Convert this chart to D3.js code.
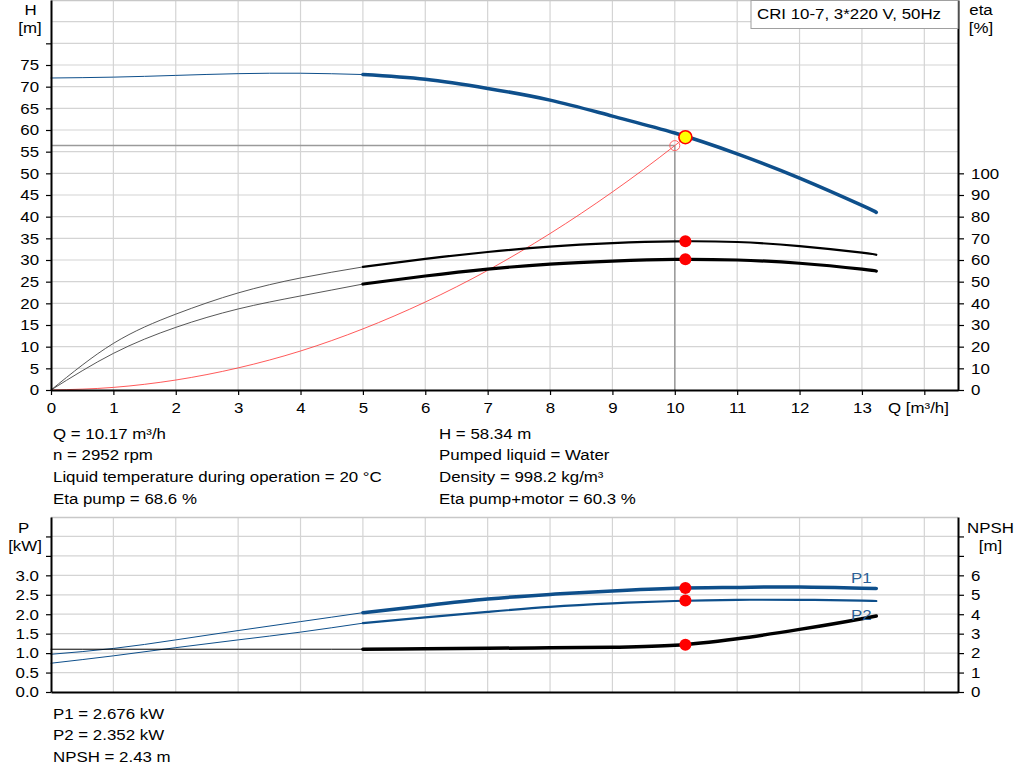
<!DOCTYPE html>
<html>
<head>
<meta charset="utf-8">
<script src="https://d3js.org/d3.v7.min.js"></script>
<style>
  body { margin: 0; background: #fff; }
  text { font-family: "Liberation Sans", Arial, sans-serif; }
</style>
</head>
<body>
<div id="vis"></div>
<script>
// pump curve data
let qThin = [0, 1, 2, 3, 4, 5];
let qThick = [5, 6, 7, 8, 9, 10, 11, 12, 13, 13.23];

let headThin = [72.0, 72.2, 72.6, 73.0, 73.1, 72.8];
let headThick = [72.8, 71.7, 69.6, 66.9, 63.2, 59.3, 54.5, 48.9, 42.6, 41.0];

let etaPumpThin = [0, 21.5, 35.0, 44.8, 51.7, 56.8];
let etaPumpThick = [56.8, 60.5, 63.7, 66.2, 67.8, 68.6, 68.3, 66.4, 63.4, 62.4];
let etaTotalThin = [0, 16.9, 28.9, 37.4, 43.4, 48.9];
let etaTotalThick = [48.9, 52.6, 55.8, 58.1, 59.5, 60.3, 60.0, 58.5, 55.8, 54.9];

let p1Thin = [0.97, 1.12, 1.34, 1.58, 1.81, 2.04];
let p1Thick = [2.04, 2.22, 2.39, 2.51, 2.60, 2.67, 2.69, 2.70, 2.67, 2.66];
let p2Thin = [0.74, 0.93, 1.14, 1.34, 1.54, 1.77];
let p2Thick = [1.77, 1.92, 2.06, 2.19, 2.28, 2.34, 2.37, 2.37, 2.35, 2.34];
let npshThin = [2.2, 2.2, 2.2, 2.2, 2.2, 2.2];
let npshThick = [2.2, 2.22, 2.25, 2.27, 2.3, 2.4, 2.74, 3.22, 3.77, 3.91];

// system curve
let qSys = [0, 1, 2, 3, 4, 5, 6, 7, 8, 9, 10, 10.17];
let hSys = [0, 0.6, 2.3, 5.1, 9.0, 14.1, 20.3, 27.6, 36.1, 45.7, 56.4, 58.34];

// duty point and operating point
let duty = { q: 10.0, h: 56.4 };
let op = { q: 10.17, h: 58.34, etaPump: 68.6, etaTotal: 60.3, p1: 2.676, p2: 2.352, npsh: 2.43 };

let qTicks = [0, 1, 2, 3, 4, 5, 6, 7, 8, 9, 10, 11, 12, 13, 14];
let hTicks = [0, 5, 10, 15, 20, 25, 30, 35, 40, 45, 50, 55, 60, 65, 70, 75, 80];
let etaTicks = [0, 10, 20, 30, 40, 50, 60, 70, 80, 90, 100];
let pTicks = [0, 0.5, 1.0, 1.5, 2.0, 2.5, 3.0, 3.5, 4.0];
let nTicks = [0, 1, 2, 3, 4, 5, 6, 7, 8];

let infoLeft = ['Q = 10.17 m³/h', 'n = 2952 rpm', 'Liquid temperature during operation = 20 °C', 'Eta pump = 68.6 %'];
let infoRight = ['H = 58.34 m', 'Pumped liquid = Water', 'Density = 998.2 kg/m³', 'Eta pump+motor = 60.3 %'];
let infoBottom = ['P1 = 2.676 kW', 'P2 = 2.352 kW', 'NPSH = 2.43 m'];

let blue = '#0e4f8b';
let gridColor = '#d4d4d4';
let fontSize = 15;
let stretch = 1.125; // reference text is a bit wider than Liberation Sans

let svg = d3.select('#vis')
  .append('svg')
  .attr('width', 1024)
  .attr('height', 781)
  .style('background-color', '#fff');

// scales
let x = d3.scaleLinear().domain([0, 14.54]).range([51, 958]);
let yH = d3.scaleLinear().domain([0, 90]).range([390, 0]);
let yEta = d3.scaleLinear().domain([0, 180]).range([390, 0]);
let yP = d3.scaleLinear().domain([0, 4.5]).range([692, 517]);
let yN = d3.scaleLinear().domain([0, 9]).range([692, 517]);

function zip(qs, vs) { return qs.map((q, i) => [q, vs[i]]); }

function drawGrid(yScale, vals, top, bottom) {
  let g = svg.append('g');
  g.selectAll('.vg').data(qTicks.slice(1))
    .enter().append('line')
    .attr('x1', d => x(d)).attr('x2', d => x(d))
    .attr('y1', top).attr('y2', bottom)
    .attr('stroke', gridColor).attr('stroke-width', 1.2);
  g.selectAll('.hg').data(vals)
    .enter().append('line')
    .attr('x1', x(0)).attr('x2', 958)
    .attr('y1', d => yScale(d)).attr('y2', d => yScale(d))
    .attr('stroke', gridColor).attr('stroke-width', 1.2);
  // top border
  g.append('line')
    .attr('x1', x(0)).attr('x2', 958)
    .attr('y1', top + 0.5).attr('y2', top + 0.5)
    .attr('stroke', '#c8c8c8').attr('stroke-width', 1.5);
}

drawGrid(yH, [5, 10, 15, 20, 25, 30, 35, 40, 45, 50, 55, 60, 65, 70, 75, 80, 85], 0, 390);
drawGrid(yP, [0.5, 1.0, 1.5, 2.0, 2.5, 3.0, 3.5, 4.0], 517, 692);

// duty point guide lines
svg.append('line')
  .attr('x1', x(0)).attr('x2', x(duty.q))
  .attr('y1', yH(duty.h)).attr('y2', yH(duty.h))
  .attr('stroke', '#9a9a9a').attr('stroke-width', 1.5);
svg.append('line')
  .attr('x1', x(duty.q)).attr('x2', x(duty.q))
  .attr('y1', yH(duty.h)).attr('y2', 390)
  .attr('stroke', '#9a9a9a').attr('stroke-width', 1.5);

function curve(qs, vs, yScale, color, w, shape) {
  let line = d3.line()
    .x(d => x(d[0]))
    .y(d => yScale(d[1]))
    .curve(shape || d3.curveNatural);
  svg.append('path')
    .datum(zip(qs, vs))
    .attr('d', line)
    .attr('fill', 'none')
    .attr('stroke', color)
    .attr('stroke-width', w)
    .attr('stroke-linecap', 'round');
}

// system curve
curve(qSys, hSys, yH, '#ff3030', 0.8, d3.curveMonotoneX);

// head
curve(qThin, headThin, yH, blue, 1);
curve(qThick, headThick, yH, blue, 3.5);
// efficiencies
curve(qThin, etaPumpThin, yEta, '#444', 0.9);
curve(qThick, etaPumpThick, yEta, '#000', 2.2);
curve(qThin, etaTotalThin, yEta, '#444', 0.9);
curve(qThick, etaTotalThick, yEta, '#000', 3.2);
// power and npsh
curve(qThin, p1Thin, yP, blue, 1);
curve(qThick, p1Thick, yP, blue, 3.5);
curve(qThin, p2Thin, yP, blue, 1);
curve(qThick, p2Thick, yP, blue, 2.2);
curve(qThin, npshThin, yN, '#000', 1, d3.curveMonotoneX);
curve(qThick, npshThick, yN, '#000', 3.5, d3.curveMonotoneX);

// markers
svg.append('circle')
  .attr('cx', x(duty.q)).attr('cy', yH(duty.h)).attr('r', 5)
  .attr('fill', 'none').attr('stroke', '#ff6060').attr('stroke-width', 1);

let dots = [
  [op.etaPump, yEta], [op.etaTotal, yEta],
  [op.p1, yP], [op.p2, yP], [op.npsh, yN]
];
svg.selectAll('.dot').data(dots)
  .enter().append('circle')
  .attr('cx', x(op.q))
  .attr('cy', d => d[1](d[0]))
  .attr('r', 6)
  .attr('fill', '#ff0000');

svg.append('circle')
  .attr('cx', x(op.q)).attr('cy', yH(op.h)).attr('r', 6.5)
  .attr('fill', '#ffff00').attr('stroke', '#ff0000').attr('stroke-width', 1.6);

// axes
function styleAxis(g) {
  g.select('.domain').attr('stroke', '#000').attr('stroke-width', 2);
  g.selectAll('.tick line').attr('stroke', '#000').attr('stroke-width', 1.2);
  g.selectAll('.tick text')
    .attr('fill', '#000')
    .style('font-size', fontSize + 'px')
    .style('font-family', '"Liberation Sans", Arial, sans-serif')
    .each(function () {
      let t = d3.select(this);
      let tx = +t.attr('x') || 0;
      t.attr('x', tx / stretch).attr('transform', 'scale(' + stretch + ',1)');
    });
}

svg.append('g')
  .attr('transform', 'translate(51,0)')
  .call(d3.axisLeft(yH).tickValues(hTicks).tickSize(5).tickPadding(7).tickSizeOuter(0)
    .tickFormat(d => d <= 75 ? d : ''))
  .call(styleAxis);

svg.append('g')
  .attr('transform', 'translate(958,0)')
  .call(d3.axisRight(yEta).tickValues(etaTicks).tickSize(6).tickPadding(7).tickSizeOuter(0))
  .call(styleAxis);

svg.append('g')
  .attr('transform', 'translate(0,390)')
  .call(d3.axisBottom(x).tickValues(qTicks).tickSize(5).tickPadding(7).tickSizeOuter(0)
    .tickFormat(d => d <= 13 ? d : ''))
  .call(styleAxis);

svg.append('g')
  .attr('transform', 'translate(51,0)')
  .call(d3.axisLeft(yP).tickValues(pTicks).tickSize(5).tickPadding(7).tickSizeOuter(0)
    .tickFormat(d => d <= 3 ? d3.format('.1f')(d) : ''))
  .call(styleAxis);

svg.append('g')
  .attr('transform', 'translate(958,0)')
  .call(d3.axisRight(yN).tickValues(nTicks).tickSize(6).tickPadding(7).tickSizeOuter(0)
    .tickFormat(d => d <= 6 ? d : ''))
  .call(styleAxis);

svg.append('g')
  .attr('transform', 'translate(0,692)')
  .call(d3.axisBottom(x).tickValues([]).tickSizeOuter(0))
  .call(styleAxis);

// axis titles
function label(txt, lx, ly, anchor, color) {
  svg.append('text')
    .attr('transform', 'translate(' + lx + ',' + ly + ') scale(' + stretch + ',1)')
    .attr('text-anchor', anchor || 'start')
    .attr('fill', color || '#000')
    .style('font-size', fontSize + 'px')
    .text(txt);
}
label('H', 30.5, 15, 'middle');
label('[m]', 30, 33, 'middle');
label('eta', 981, 15, 'middle');
label('[%]', 981, 33, 'middle');
label('Q [m³/h]', 888, 413);
label('P', 23.5, 533, 'middle');
label('[kW]', 25, 551, 'middle');
label('NPSH', 990.5, 533, 'middle');
label('[m]', 990.5, 551, 'middle');
label('P1', 851, 583, 'start', '#2a5f97');
label('P2', 851, 620, 'start', '#2a5f97');

// title box
svg.append('rect')
  .attr('x', 751).attr('y', 0.5).attr('width', 207).attr('height', 28)
  .attr('fill', '#fff').attr('stroke', '#a0a0a0');
label('CRI 10-7, 3*220 V, 50Hz', 757, 19);

// info text
infoLeft.forEach((t, i) => label(t, 53, 438.5 + i * 21.7));
infoRight.forEach((t, i) => label(t, 439, 438.5 + i * 21.7));
infoBottom.forEach((t, i) => label(t, 53, 719 + i * 21.4));
</script>
</body>
</html>
